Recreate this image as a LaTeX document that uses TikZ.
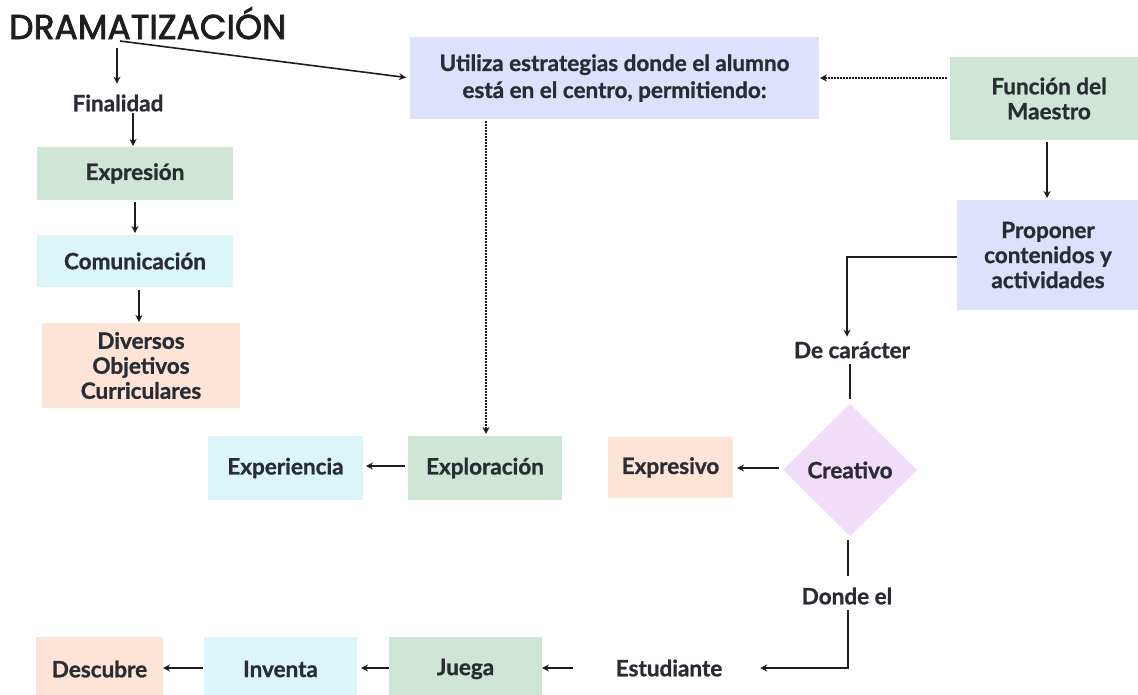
\documentclass[tikz,border=0pt]{standalone}
\usepackage{fontspec}
\setmainfont{Lato}[BoldFeatures={FakeBold=1}]
\newfontfamily\titlefont{Poppins}[FakeBold=2.2]
\usetikzlibrary{arrows.meta,shapes.geometric}
\definecolor{gr}{HTML}{CFE6D7}
\definecolor{cy}{HTML}{DCF5F8}
\definecolor{pe}{HTML}{FDE4D6}
\definecolor{lv}{HTML}{DDE1FB}
\definecolor{pu}{HTML}{F1DCF9}
\definecolor{txt}{HTML}{2A2C34}
\definecolor{ln}{HTML}{1E1E1E}
\tikzset{
  box/.style={rectangle, inner sep=0pt, outer sep=0pt, align=center,
    font=\bfseries\fontsize{22.5}{25}\selectfont, text=txt},
  lbl/.style={inner sep=0pt, outer sep=0pt, align=center,
    font=\bfseries\fontsize{22.5}{25}\selectfont, text=txt},
  arr/.style={draw=ln, line width=1.6pt, -{Stealth[length=7pt,width=7pt]}},
  plain/.style={draw=ln, line width=1.6pt},
  dotarr/.style={draw=ln, line width=2pt, densely dotted, -{Stealth[length=7pt,width=7pt]}},
}
\begin{document}
\begin{tikzpicture}[x=1pt,y=-1pt]
\clip (0,0) rectangle (1138,694);
\fill[white] (0,0) rectangle (1138,694);
% title
\node[anchor=base west, inner sep=0pt, text=ln, font=\titlefont\fontsize{34.5}{36}\selectfont] (title) at (9,39) {DRAMATIZACIÓN};
\coordinate (t1) at (117,48);
\coordinate (t2) at (120,41);
\node[lbl] (fin) at (118,103) {Finalidad};
% left column
\node[box, fill=gr, minimum width=196pt, minimum height=53pt] (expr) at (135,173.5) {Expresión};
\node[box, fill=cy, minimum width=196pt, minimum height=52pt] (comu) at (135,261) {Comunicación};
\node[box, fill=pe, minimum width=198pt, minimum height=85pt] (div) at (141,365.5) {Diversos\\Objetivos\\Curriculares};
% top
\node[box, fill=lv, minimum width=409pt, minimum height=82pt, font=\bfseries\fontsize{22.5}{27}\selectfont] (util) at (614.5,78) {Utiliza estrategias donde el alumno\\está en el centro, permitiendo:};
\node[box, fill=gr, minimum width=198pt, minimum height=83pt] (func) at (1049,98.5) {Función del\\Maestro};
\node[box, fill=lv, minimum width=182pt, minimum height=110pt] (prop) at (1048,255) {Proponer\\contenidos y\\actividades};
% middle
\node[box, fill=cy, minimum width=155pt, minimum height=64pt] (experi) at (285.5,468) {Experiencia};
\node[box, fill=gr, minimum width=154pt, minimum height=64pt] (explo) at (485,468) {Exploración};
\node[lbl] (decar) at (852,350) {De carácter};
\node[diamond, fill=pu, inner sep=0pt, outer sep=0pt, minimum width=134pt, minimum height=132pt,
  font=\bfseries\fontsize{22.5}{25}\selectfont, text=txt] (crea) at (850,470) {Creativo};
\node[box, fill=pe, minimum width=125pt, minimum height=61pt] (expv) at (670.5,467.5) {Expresivo};
\node[lbl] (donde) at (847,596) {Donde el};
% bottom
\node[lbl, inner xsep=38pt] (estu) at (669,668) {Estudiante};
\node[box, fill=gr, minimum width=153pt, minimum height=64pt] (juega) at (465.5,669) {Juega};
\node[box, fill=cy, minimum width=153pt, minimum height=64pt] (inve) at (280.5,669) {Inventa};
\node[box, fill=pe, minimum width=127pt, minimum height=64pt] (desc) at (99.5,669) {Descubre};
% connectors
\draw[arr, shorten >=4pt] (t2) -- (util.west);
\draw[arr, shorten >=11pt] (t1) -- (t1 |- fin.north);
\draw[arr, shorten <=2pt, shorten >=1pt] ([xshift=15pt]fin.south) -- ([xshift=15pt]fin.south |- expr.north);
\draw[arr, shorten <=2pt, shorten >=2pt] (expr.south) -- (comu.north);
\draw[arr, shorten <=3pt, shorten >=1pt] ([xshift=-2pt]div.north |- comu.south) -- ([xshift=-2pt]div.north);
\draw[dotarr, shorten <=2pt, shorten >=2pt] ([xshift=1pt]explo.north |- util.south) -- ([xshift=1pt]explo.north);
\draw[arr, shorten <=3pt, shorten >=3pt] ([yshift=2pt]explo.west) -- ([yshift=2pt]experi.east);
\draw[dotarr, shorten <=3pt, shorten >=1pt] (func.west |- util.east) -- (util.east);
\draw[arr, shorten <=2pt, shorten >=2pt] ([xshift=-1pt]prop.north |- func.south) -- ([xshift=-1pt]prop.north);
\coordinate (c1) at (847,257);
\draw[arr, shorten >=5pt] (prop.west |- c1) -- (c1) -- (c1 |- decar.north);
\draw[plain, shorten <=6pt, shorten >=5pt] (crea.north |- decar.south) -- (crea.north);
\draw[arr, shorten <=4pt, shorten >=4pt] ([yshift=2pt]crea.west) -- ([yshift=2pt]crea.west -| expv.east);
\draw[plain, shorten <=4pt, shorten >=12pt] ([xshift=-2pt]crea.south) -- ([xshift=-2pt]crea.south |- donde.north);
\draw[arr, shorten <=6pt] ([xshift=1pt]donde.south) -- ([xshift=1pt]donde.south |- estu.east) -- (estu.east);
\draw[arr, shorten <=5pt] (estu.west) -- (estu.west -| juega.east);
\draw[arr, shorten >=4pt] (juega.west |- estu.west) -- (inve.east |- estu.west);
\draw[arr, shorten <=1pt] (inve.west |- estu.west) -- (desc.east |- estu.west);
\end{tikzpicture}
\end{document}
